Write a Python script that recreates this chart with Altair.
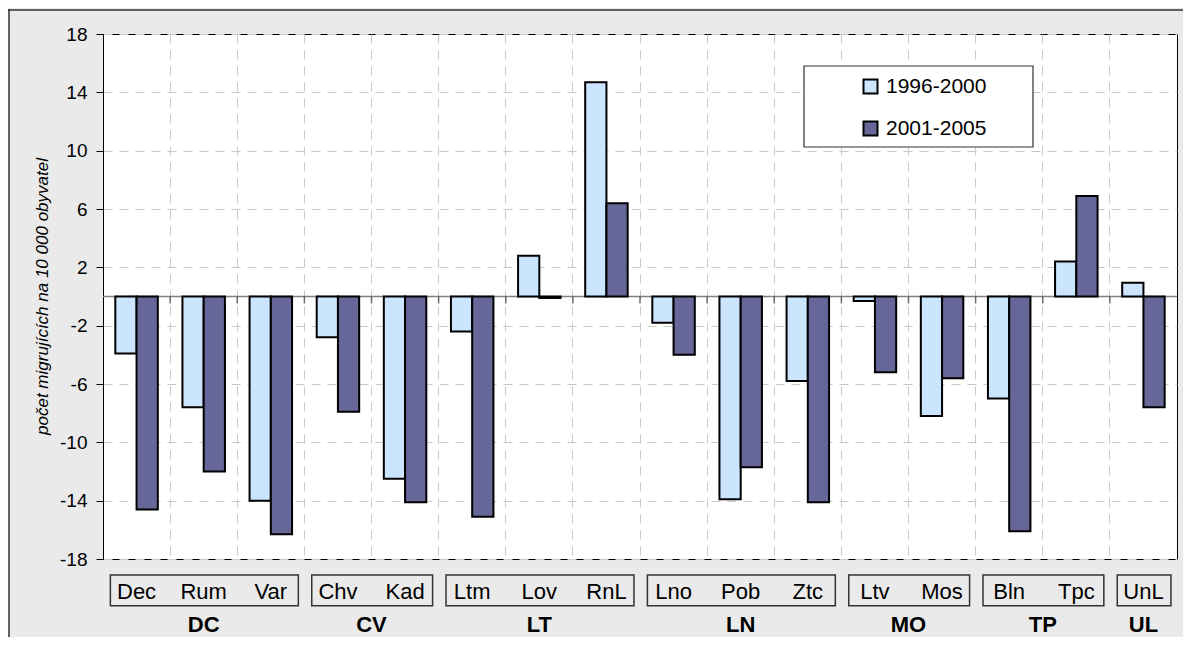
import altair as alt
import pandas as pd

# ---- data ----
groups = ["DC", "DC", "DC", "CV", "CV", "LT", "LT", "LT", "LN", "LN", "LN", "MO", "MO", "TP", "TP", "UL"]
districts = ["Dec", "Rum", "Var", "Chv", "Kad", "Ltm", "Lov", "RnL", "Lno", "Pob", "Ztc", "Ltv", "Mos", "Bln", "Tpc", "UnL"]
series = ["1996-2000", "2001-2005"]
v_1996_2000 = [-3.9, -7.6, -14.0, -2.8, -12.5, -2.4, 2.8, 14.7, -1.8, -13.9, -5.8, -0.3, -8.2, -7.0, 2.4, 0.95]
v_2001_2005 = [-14.6, -12.0, -16.3, -7.9, -14.1, -15.1, -0.1, 6.4, -4.0, -11.7, -14.1, -5.2, -5.6, -16.1, 6.9, -7.6]
y_ticks = [-18, -14, -10, -6, -2, 2, 6, 10, 14, 18]

FONT = "Liberation Sans"
W, H = 1074, 525
N = len(districts)

rows = []
for i, d in enumerate(districts):
    rows.append({"district": d, "series": series[0], "value": v_1996_2000[i]})
    rows.append({"district": d, "series": series[1], "value": v_2001_2005[i]})
bars_df = pd.DataFrame(rows)

cat_df = pd.DataFrame({"district": districts, "group": groups, "idx": range(N)})
cat_df["center"] = cat_df["idx"] + 0.5

grp = cat_df.groupby("group", sort=False)["idx"].agg(["min", "max"]).reset_index()
grp["start"] = grp["min"] + 0.11
grp["end"] = grp["max"] + 1 - 0.09
grp["mid"] = (grp["min"] + grp["max"] + 1) / 2

bound_df = pd.DataFrame({"b": list(range(1, N))})

yscale = alt.Scale(domain=[-18, 18], nice=False, zero=False)
xq = alt.Scale(domain=[0, N], nice=False, zero=False)

zero_rule = alt.Chart(pd.DataFrame({"z": [0]})).mark_rule(
    color="#808080", strokeWidth=1.5
).encode(y=alt.Y("z:Q", scale=yscale))

# legend frame (white box behind the legend entries)
legend_box = alt.Chart(pd.DataFrame({"f": [0]})).mark_rect(
    fill="white", stroke="#333333", strokeWidth=1.2
).encode(x=alt.value(701), x2=alt.value(930), y=alt.value(32), y2=alt.value(113))

bars = alt.Chart(bars_df).mark_bar(stroke="black", strokeWidth=2).encode(
    x=alt.X("district:N", sort=districts,
            scale=alt.Scale(paddingInner=0, paddingOuter=0),
            axis=alt.Axis(title=None, labels=False, ticks=False, domain=False,
                          grid=True, bandPosition=0, gridDash=[9, 7],
                          gridColor="#C8C8C8", gridWidth=1)),
    xOffset=alt.XOffset("series:N", sort=series,
                        scale=alt.Scale(paddingOuter=0.58, paddingInner=0)),
    y=alt.Y("value:Q", scale=yscale,
            axis=alt.Axis(values=y_ticks, title="počet migrujících na 10 000 obyvatel",
                          titleFont=FONT, titleFontSize=17, titleFontStyle="italic",
                          titleFontWeight="normal", titleColor="black",
                          titleAngle=-90, titleX=-61, titleY=262,
                          titleAlign="center", titleBaseline="middle",
                          labelFont=FONT, labelFontSize=19, labelColor="black",
                          labelPadding=9, tickSize=7, tickColor="black",
                          domainColor="black", grid=True, gridDash=[9, 7],
                          gridColor="#C8C8C8", gridWidth=1,
                          labelExpr="datum.value + ''")),
    color=alt.Color("series:N", sort=series,
                    scale=alt.Scale(domain=series, range=["#CCE5FF", "#666699"]),
                    legend=alt.Legend(title=None, orient="none", legendX=747, legendY=32,
                                      symbolType="square", symbolSize=196,
                                      symbolStrokeColor="black", symbolStrokeWidth=2,
                                      labelFont=FONT, labelFontSize=21, labelColor="black",
                                      padding=10, rowPadding=19,
                                      labelOffset=5)),
)

ticks0 = alt.Chart(bound_df).mark_tick(orient="vertical", size=7, yOffset=3.5,
                                        color="#333333", thickness=1.5).encode(
    x=alt.X("b:Q", scale=xq, axis=None),
    y=alt.Y("zero:Q", scale=yscale),
).transform_calculate(zero="0")

boxes = alt.Chart(grp).mark_rect(fill="#EAEAEA", stroke="#333333", strokeWidth=1.5).encode(
    x=alt.X("start:Q", scale=xq, axis=None),
    x2="end:Q",
    y=alt.value(541),
    y2=alt.value(571.7),
)

sub_labels = alt.Chart(cat_df).mark_text(font=FONT, fontSize=22, color="black",
                                         baseline="middle").encode(
    x=alt.X("center:Q", scale=xq, axis=None),
    y=alt.value(557.7),
    text="district:N",
)

grp_labels = alt.Chart(grp).mark_text(font=FONT, fontSize=22, fontWeight="bold",
                                      color="black", baseline="alphabetic").encode(
    x=alt.X("mid:Q", scale=xq, axis=None),
    y=alt.value(598),
    text="group:N",
)

frame = alt.Chart(pd.DataFrame({"f": [0]})).mark_rule(color="#333333", strokeWidth=1.5)
frame_top = frame.encode(x=alt.value(-95), x2=alt.value(1090), y=alt.value(-24))
frame_left = frame.encode(x=alt.value(-94), y=alt.value(-25), y2=alt.value(610))

chart = alt.layer(
    zero_rule, legend_box, bars, ticks0, boxes, sub_labels, grp_labels, frame_top, frame_left
).resolve_scale(x="independent").properties(
    width=W, height=H,
    autosize=alt.AutoSizeParams(type="none"),
    padding={"left": 95, "top": 26, "right": 6, "bottom": 78},
    background="#EAEAEA",
).configure_view(stroke="black", strokeWidth=1, fill="white")

chart.save("out.html", embed_options={"renderer": "svg", "actions": False})
